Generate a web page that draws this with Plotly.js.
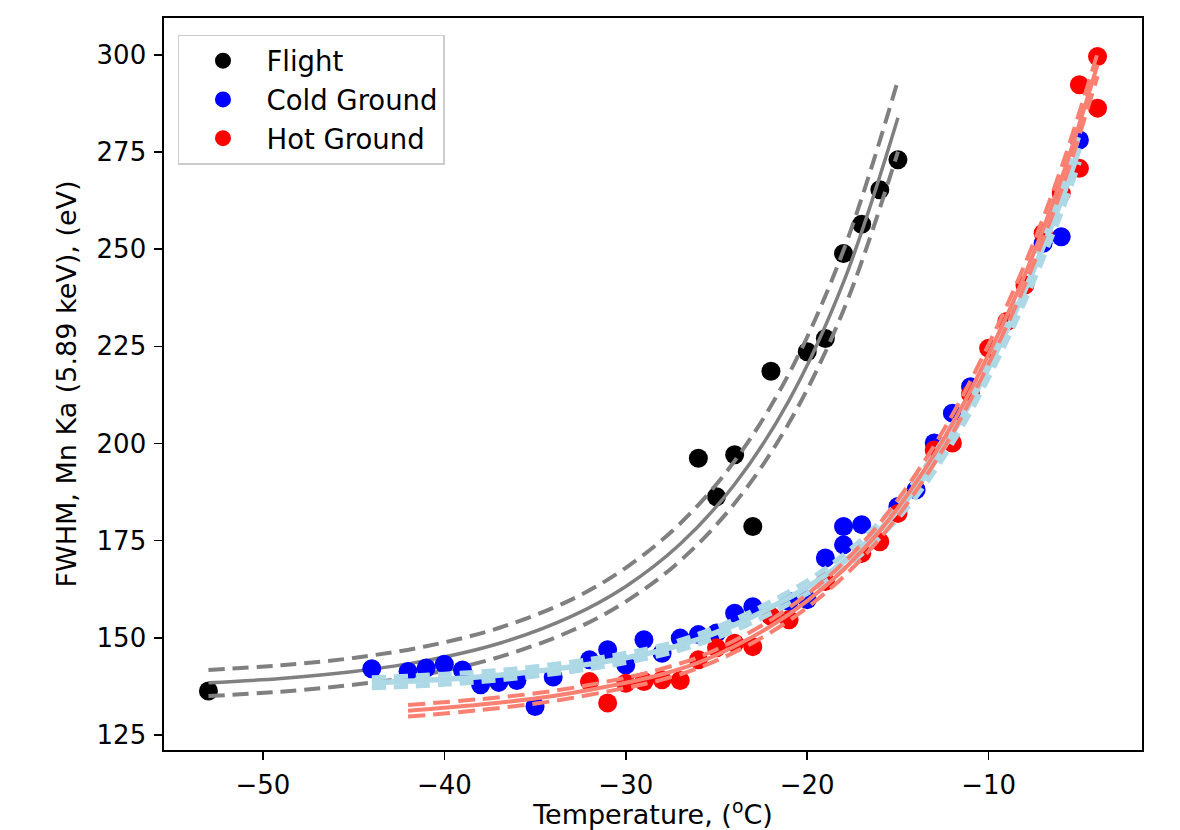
<!DOCTYPE html>
<html>
<head>
<meta charset="utf-8">
<script src="https://cdn.plot.ly/plotly-3.0.1.min.js"></script>
<style>html,body{margin:0;padding:0;background:#fff;}#chart{width:1180px;height:830px;}</style>
</head>
<body>
<div id="chart"></div>
<script>
// ---- Data ----
const flightTemp = [-53, -26, -25, -24, -23, -22, -20, -19, -18, -17, -16, -15];
const flightFwhm = [136.3, 196.2, 186.3, 197.1, 178.6, 218.6, 223.6, 227.0, 248.9, 256.4, 265.3, 273.0];

const coldTemp = [-44, -42, -41, -40, -39, -38, -37, -36, -35, -34, -32, -31, -30, -29, -28, -27, -26, -25, -24, -23, -21, -20, -19, -18, -18, -17, -15, -14, -13, -12, -11, -7, -6, -5];
const coldFwhm = [142.0, 141.3, 142.2, 143.2, 141.7, 137.9, 138.5, 139.0, 132.3, 139.9, 144.3, 146.9, 143.0, 149.5, 146.0, 149.9, 150.8, 151.2, 156.3, 158.0, 159.3, 159.8, 170.5, 173.9, 178.6, 179.1, 183.8, 188.1, 200.1, 207.8, 214.6, 251.5, 253.2, 278.1];

const hotTemp = [-32, -31, -30, -29, -28, -27, -26, -25, -24, -23, -22, -21, -19, -17, -16, -15, -13, -12, -11, -10, -9, -8, -7, -6, -5, -5, -4, -4];
const hotFwhm = [138.7, 133.2, 138.3, 138.7, 139.2, 139.0, 144.3, 147.4, 148.6, 147.7, 155.5, 154.6, 164.5, 171.7, 174.7, 182.0, 198.3, 200.1, 212.7, 224.5, 231.4, 240.8, 254.1, 264.4, 270.8, 292.3, 299.6, 286.3];

// fit curves
const flightFitT = [-53, -49, -45, -41, -37, -33, -30, -27, -24, -21, -18, -15];
const flightFit = [138.4, 139.5, 141.3, 144.1, 148.5, 155.5, 163.2, 174.1, 189.5, 211.1, 241.5, 283.8];
const flightFitHi = [141.7, 142.9, 144.8, 147.8, 152.5, 159.8, 168.0, 179.4, 195.5, 218.0, 249.7, 293.5];
const flightFitLo = [135.0, 136.1, 137.9, 140.6, 145.0, 151.8, 159.3, 169.8, 184.6, 205.3, 234.3, 275.1];

const coldFitT = [-44, -40, -36, -32, -30, -28, -26, -24, -22, -20, -18, -16, -14, -12, -10, -8, -6, -5];
const coldFit = [138.4, 139.3, 140.8, 143.2, 144.8, 146.8, 149.6, 153.3, 157.8, 163.0, 169.5, 177.8, 188.5, 202.5, 219.5, 239.5, 262.5, 276.0];
const coldFitHi = [139.7, 140.6, 142.0, 144.4, 146.0, 148.0, 150.9, 154.7, 159.3, 164.6, 171.3, 179.8, 190.7, 204.9, 222.0, 242.3, 265.6, 279.5];
const coldFitLo = [137.1, 138.0, 139.6, 142.0, 143.6, 145.6, 148.3, 151.9, 156.3, 161.4, 167.7, 175.8, 186.3, 200.1, 217.0, 236.7, 259.4, 272.5];

const hotFitT = [-42, -38, -34, -30, -28, -26, -24, -22, -20, -18, -16, -14, -12, -10, -8, -6, -4];
const hotFit = [131.2, 132.8, 135.0, 138.4, 140.6, 143.6, 147.8, 153.0, 159.5, 167.5, 177.5, 190.0, 205.0, 223.0, 243.5, 268.0, 297.5];
const hotFitHi = [132.7, 134.2, 136.3, 139.7, 142.0, 145.0, 149.3, 154.6, 161.2, 169.3, 179.5, 192.2, 207.4, 225.5, 246.2, 270.9, 300.5];
const hotFitLo = [129.7, 131.4, 133.7, 137.1, 139.2, 142.2, 146.3, 151.4, 157.8, 165.7, 175.5, 187.8, 202.6, 220.5, 240.8, 265.1, 294.5];

const xTicks = [-50, -40, -30, -20, -10];
const yTicks = [125, 150, 175, 200, 225, 250, 275, 300];

const FONT = '"DejaVu Sans", "Liberation Sans", sans-serif';

function fitLine(x, y, color, width, dash) {
  return {x: x, y: y, type: 'scatter', mode: 'lines', showlegend: false, hoverinfo: 'skip',
    line: {color: color, width: width, dash: dash, shape: 'spline', smoothing: 1}};
}
function pts(x, y, color, name) {
  return {x: x, y: y, type: 'scatter', mode: 'markers', name: name,
    marker: {color: color, size: 19, line: {width: 0}}};
}

const traces = [
  pts(flightTemp, flightFwhm, '#000000', 'Flight'),
  fitLine(flightFitT, flightFit, '#808080', 3.5, 'solid'),
  fitLine(flightFitT, flightFitHi, '#808080', 4, '16px,8px'),
  fitLine(flightFitT, flightFitLo, '#808080', 4, '16px,8px'),
  pts(coldTemp, coldFwhm, '#0000ff', 'Cold Ground'),
  pts(hotTemp, hotFwhm, '#ff0000', 'Hot Ground'),
  fitLine(coldFitT, coldFit, '#add8e6', 5.5, 'solid'),
  fitLine(coldFitT, coldFitHi, '#add8e6', 5, '14px,8px'),
  fitLine(coldFitT, coldFitLo, '#add8e6', 5, '14px,8px'),
  fitLine(hotFitT, hotFit, '#fa8072', 4, 'solid'),
  fitLine(hotFitT, hotFitHi, '#fa8072', 4, '17px,8px'),
  fitLine(hotFitT, hotFitLo, '#fa8072', 4, '17px,8px')
];

const axisCommon = {
  showgrid: false, zeroline: false, showline: true, mirror: true,
  linecolor: '#000000', linewidth: 1.6,
  ticks: 'outside', ticklen: 8, tickwidth: 1.6, tickcolor: '#000000',
  ticklabelstandoff: 3,
  tickfont: {family: FONT, size: 26, color: '#000000'}
};

const layout = {
  width: 1180, height: 830,
  paper_bgcolor: '#ffffff', plot_bgcolor: '#ffffff',
  margin: {l: 164, r: 38, t: 18, b: 80, pad: 0},
  font: {family: FONT, color: '#000000'},
  xaxis: Object.assign({}, axisCommon, {
    range: [-55.45, -1.55], tickvals: xTicks, ticktext: xTicks.map(v => '\u2212' + Math.abs(v)),
    title: {text: 'Temperature, (<sup>o</sup>C)', font: {family: FONT, size: 27, color: '#000000'}, standoff: 12}
  }),
  yaxis: Object.assign({}, axisCommon, {
    range: [121.1, 309.5], tickvals: yTicks,
    title: {text: 'FWHM, Mn Ka (5.89 keV), (eV)', font: {family: FONT, size: 27, color: '#000000'}, standoff: 12}
  }),
  legend: {
    x: 0.0143, y: 0.977, xanchor: 'left', yanchor: 'top',
    bgcolor: 'rgba(255,255,255,0.8)', bordercolor: '#cccccc', borderwidth: 1.5,
    font: {family: FONT, size: 27.5, color: '#000000'},
    itemwidth: 77
  },
  showlegend: true
};

Plotly.newPlot('chart', traces, layout, {displayModeBar: false, staticPlot: true});
</script>
</body>
</html>
